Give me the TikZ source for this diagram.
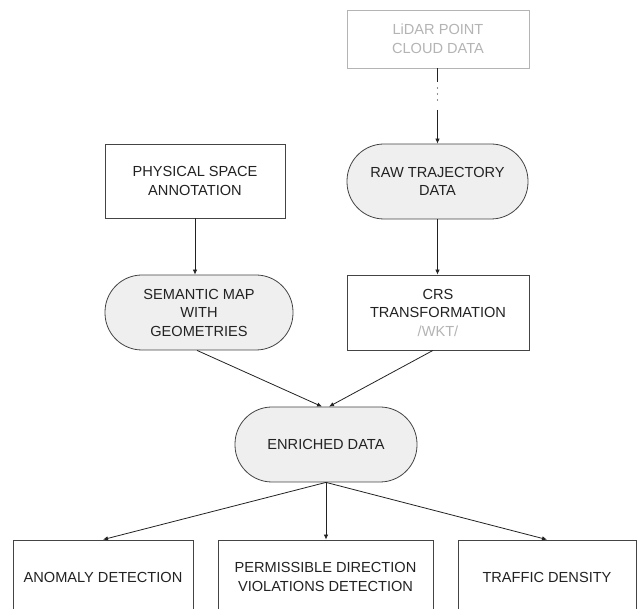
\documentclass[tikz,border=0pt]{standalone}
\usepackage{fontspec}
\setmainfont{Liberation Sans}
\usetikzlibrary{arrows.meta}
\definecolor{txt}{HTML}{222222}
\definecolor{edge}{HTML}{444444}
\definecolor{pale}{HTML}{B4B4B4}
\definecolor{fillg}{HTML}{EFEFEF}
\begin{document}
\begin{tikzpicture}[x=1pt,y=-1pt,
  every node/.style={font=\fontsize{14.6}{18.5}\selectfont, text=txt, align=center, inner sep=0pt},
  boxr/.style={draw=edge, line width=0.8pt, fill=white, rectangle},
  stad/.style={draw=edge, line width=0.8pt, fill=fillg, rectangle, rounded corners=37pt},
  conn/.style={draw=txt, line width=0.8pt},
  arr/.style={conn, -{Latex[length=5pt,width=4.5pt]}},
]
\useasboundingbox (0,0) rectangle (638,609);
\clip (0,0) rectangle (638,609);

\node[boxr, draw=pale, text=pale, minimum width=182pt, minimum height=58pt] (lidar) at (438,39) {LiDAR POINT\\CLOUD DATA};
\node[stad, minimum width=181pt, minimum height=75pt] (raw) at (437.5,181.5) {RAW TRAJECTORY\\DATA};
\node[boxr, minimum width=180pt, minimum height=74pt] (phys) at (195,181) {PHYSICAL SPACE\\ANNOTATION};
\node[stad, minimum width=188pt, minimum height=75pt] (sem) at (199,312.5) {SEMANTIC MAP\\WITH\\GEOMETRIES};
\node[boxr, minimum width=182pt, minimum height=75pt] (crs) at (438,312.5) {CRS\\TRANSFORMATION\\\textcolor{pale}{/WKT/}};
\node[stad, minimum width=182pt, minimum height=75pt] (enr) at (326,444.5) {ENRICHED DATA};
\node[boxr, minimum width=180pt, minimum height=74pt] (anom) at (103,577) {ANOMALY DETECTION};
\node[boxr, minimum width=215pt, minimum height=74pt] (perm) at (325.5,577) {PERMISSIBLE DIRECTION\\VIOLATIONS DETECTION};
\node[boxr, minimum width=178pt, minimum height=74pt] (traf) at (547,577) {TRAFFIC DENSITY};

\coordinate (c1) at (437.5,82);
\coordinate (d1) at (437.5,88);
\coordinate (d2) at (437.5,100.5);
\coordinate (c2) at (437.5,110);
\draw[conn] (lidar.south -| c1) -- (c1);
\draw[draw=txt, line width=1.4pt, line cap=round, dash pattern=on 0pt off 6pt] (d1) -- (d2);
\draw[arr] (c2) -- (raw.north -| c2);

\draw[arr] (phys.south) -- (phys.south |- sem.north);
\draw[arr] (raw.south) -- (raw.south |- crs.north);
\draw[arr] ([xshift=-2pt]sem.south) -- ([xshift=-4pt]enr.north);
\draw[arr] ([xshift=-5pt]crs.south) -- ([xshift=3pt]enr.north);
\draw[arr] (enr.south) -- (anom.north);
\draw[arr] (enr.south) -- (perm.north -| enr.south);
\draw[arr] (enr.south) -- (traf.north);
\end{tikzpicture}
\end{document}
